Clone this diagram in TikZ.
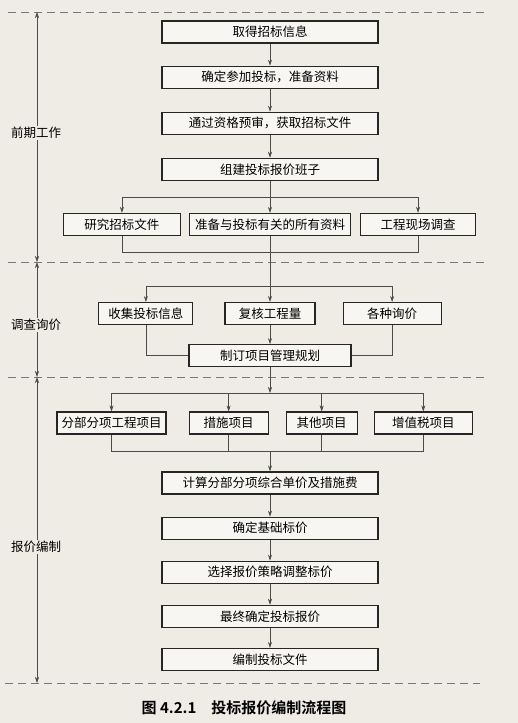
\documentclass[tikz,border=0pt]{standalone}
\usepackage{fontspec}
\setmainfont{Noto Sans CJK SC}[BoldFont={* Bold}]
\usepackage{xcolor}
\definecolor{pagebg}{RGB}{239,236,229}
\definecolor{boxline}{RGB}{38,38,38}
\definecolor{lngray}{RGB}{75,75,75}
\definecolor{dashgray}{RGB}{120,120,120}
\usepackage{tikz}
\usetikzlibrary{positioning,arrows.meta}

\begin{document}
\begin{tikzpicture}[
  x=1pt,y=-1pt,
  font=\fontsize{12.5}{14}\selectfont,
  >={Stealth[length=6pt,width=4pt]},
  box/.style={draw=boxline,line width=1.1pt,fill=white!55!pagebg,align=center,inner sep=2pt,minimum height=22pt},
  mainbox/.style={box,minimum width=216pt},
  ln/.style={lngray,line width=0.6pt},
  ar/.style={->,ln},
  axis/.style={<->,lngray,line width=0.6pt},
  sep/.style={dashgray,line width=0.9pt,dash pattern=on 8pt off 5pt},
  stage/.style={fill=pagebg,inner sep=1pt},
]
\fill[pagebg] (0,0) rectangle (518,723);
\useasboundingbox (0,0) rectangle (518,723);

% stage separators
\draw[sep] (8,12) -- (484,12);
\draw[sep] (8,262) -- (484,262);
\draw[sep] (8,377) -- (484,377);
\draw[sep] (5,683) -- (480,683);

% preparation
\node[mainbox] (info) at (270,32) {取得招标信息};
\node[mainbox,below=22pt of info] (decide) {确定参加投标，准备资料};
\node[mainbox,below=23pt of decide] (qualify) {通过资格预审，获取招标文件};
\node[mainbox,below=23pt of qualify] (team) {组建投标报价班子};

\node[box,minimum width=161pt,below=32pt of team] (ready) {准备与投标有关的所有资料};
\node[box,minimum width=117pt,left=8pt of ready] (study) {研究招标文件};
\node[box,minimum width=115pt,right=9pt of ready] (site) {工程现场调查};

\draw[ar] (info) -- (decide);
\draw[ar] (decide) -- (qualify);
\draw[ar] (qualify) -- (team);
\coordinate[below=16pt of team.south] (fork1);
\draw[ar] (team) -- (ready);
\draw[ar] (fork1) -| (study.north);
\draw[ar] (fork1) -| (site.north);
\coordinate[below=16pt of ready.south] (join1);
\draw[ln] (study.south) |- (join1) -| (site.south);

% inquiry
\node[box,minimum width=90pt,below=66pt of ready] (check) {复核工程量};
\node[box,minimum width=94pt,left=31pt of check] (collect) {收集投标信息};
\node[box,minimum width=98pt,right=27pt of check] (inquiry) {各种询价};
\node[box,minimum width=162pt,below=19pt of check] (plan) {制订项目管理规划};

\coordinate[above=16pt of check.north] (fork2);
\draw[ar] (ready) -- (check);
\draw[ar] (fork2) -| (collect.north);
\draw[ar] (fork2) -| (inquiry.north);
\draw[ln] (collect.south) |- (plan.west);
\draw[ln] (inquiry.south) |- (plan.east);
\draw[ar] (check) -- (plan);

% pricing
\node[box,minimum width=109pt] (subitem) at (111.5,423) {分部分项工程项目};
\node[box,minimum width=79pt,right=22pt of subitem] (measure) {措施项目};
\node[box,minimum width=71pt,right=17pt of measure] (other) {其他项目};
\node[box,minimum width=98pt,right=16pt of other] (vat) {增值税项目};

\coordinate (fork3) at (plan.south |- 0,393);
\draw[ar] (plan) -- (fork3);
\draw[ar] (fork3) -| (subitem.north);
\draw[ar] (fork3) -| (measure.north);
\draw[ar] (fork3) -| (other.north);
\draw[ar] (fork3) -| (vat.north);

\node[mainbox] (calc) at (270,483) {计算分部分项综合单价及措施费};
\node[mainbox,below=22pt of calc] (base) {确定基础标价};
\node[mainbox,below=21pt of base] (strategy) {选择报价策略调整标价};
\node[mainbox,below=21pt of strategy] (final) {最终确定投标报价};
\node[mainbox,below=20pt of final] (docs) {编制投标文件};

\coordinate[above=20pt of calc.north] (join3);
\draw[ln] (subitem.south) |- (join3);
\draw[ln] (vat.south) |- (join3);
\draw[ln] (measure.south) -- (measure.south |- join3);
\draw[ln] (other.south) -- (other.south |- join3);
\draw[ar] (join3) -- (calc);
\draw[ar] (calc) -- (base);
\draw[ar] (base) -- (strategy);
\draw[ar] (strategy) -- (final);
\draw[ar] (final) -- (docs);

% stage axis on the left
\coordinate (s0) at (37,12);
\coordinate (s1) at (37,262);
\coordinate (s2) at (37,377);
\coordinate (s3) at (37,683);
\draw[axis] (s0) -- (s1);
\draw[axis] (s1) -- (s2);
\draw[axis] (s2) -- (s3);
\node[stage] (pre) at (36,133) {前期工作};
\node[stage] (inv) at (36,325) {调查询价};
\node[stage] (pri) at (36,547) {报价编制};

\node[font=\fontsize{15}{17}\selectfont\bfseries] (title) at (244,708) {图 4.2.1\quad 投标报价编制流程图};
\end{tikzpicture}
\end{document}
